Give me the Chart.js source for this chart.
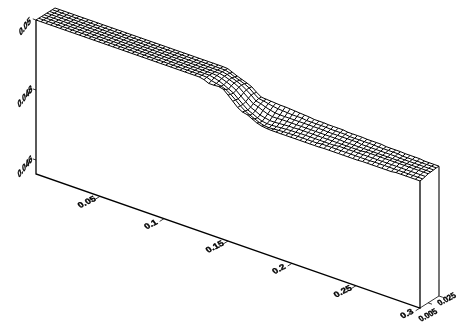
<!DOCTYPE html>
<html>
<head>
<meta charset="utf-8">
<script src="https://cdn.jsdelivr.net/npm/chart.js@4/dist/chart.umd.min.js"></script>
<style>
  html, body { margin: 0; padding: 0; background: #fff; }
  canvas { display: block; }
</style>
</head>
<body>
<canvas id="surface" width="459" height="322"></canvas>
<script>
// grid of the surface
const xValues = [0, 0.00375, 0.0075, 0.01125, 0.015, 0.01875, 0.0225, 0.02625, 0.03, 0.03375, 0.0375, 0.04125, 0.045, 0.04875, 0.0525, 0.05625, 0.06, 0.06375, 0.0675, 0.07125,
  0.075, 0.07875, 0.0825, 0.08625, 0.09, 0.09375, 0.0975, 0.10125, 0.105, 0.10875, 0.1125, 0.11625, 0.12, 0.12375, 0.1275,
  0.13125, 0.135, 0.13875, 0.1425, 0.14625, 0.15, 0.15375, 0.1575, 0.16125, 0.165, 0.16875, 0.1725, 0.17625, 0.18, 0.18375, 0.1875, 0.19125, 0.195, 0.19875,
  0.2025, 0.20625, 0.21, 0.21375, 0.2175, 0.22125, 0.225, 0.22875, 0.2325, 0.23625, 0.24, 0.24375, 0.2475, 0.25125, 0.255, 0.25875, 0.2625, 0.26625, 0.27, 0.27375, 0.2775, 0.28125, 0.285, 0.28875, 0.2925, 0.29625, 0.3];
const depthValues = [-0.01, -0.005, 0, 0.005, 0.01, 0.015, 0.02, 0.025];

// first 35 columns are the same flat level on every row
const zFlat = [0.05, 0.05, 0.05, 0.05, 0.05, 0.05, 0.05, 0.05, 0.05, 0.05, 0.05, 0.05, 0.05, 0.05, 0.05, 0.05, 0.05, 0.05, 0.05, 0.05,
  0.05, 0.05, 0.05, 0.05, 0.05, 0.05, 0.05, 0.05, 0.05, 0.05, 0.05, 0.05, 0.05, 0.05, 0.05];

const zRow0 = [...zFlat, 0.04997, 0.04991, 0.04991, 0.04992, 0.04989, 0.04977, 0.04964, 0.04951, 0.04943, 0.0494, 0.04933, 0.04926, 0.04922, 0.0492, 0.04919, 0.04919, 0.04919, 0.04919, 0.04919,
  0.04919, 0.04919, 0.04919, 0.04919, 0.04919, 0.04919, 0.0492, 0.0492, 0.0492, 0.0492, 0.0492, 0.0492, 0.0492, 0.0492, 0.04921, 0.04921, 0.04921, 0.04921, 0.04921, 0.04921, 0.04921, 0.04923, 0.04923, 0.04923, 0.04923, 0.04923, 0.04923];
const zRow1 = [...zFlat, 0.04999, 0.04994, 0.04991, 0.04988, 0.04983, 0.04974, 0.04963, 0.04951, 0.04941, 0.04934, 0.04928, 0.04922, 0.04918, 0.04917, 0.04918, 0.04919, 0.0492, 0.0492, 0.04921,
  0.04921, 0.04921, 0.04921, 0.04921, 0.04921, 0.04923, 0.04923, 0.04923, 0.04923, 0.04923, 0.04923, 0.04923, 0.04923, 0.04923, 0.04923, 0.04923, 0.04924, 0.04924, 0.04924, 0.04924, 0.04924, 0.04924, 0.04924, 0.04924, 0.04924, 0.04924, 0.04924];
const zRow2 = [...zFlat, 0.05, 0.04997, 0.04993, 0.04987, 0.0498, 0.04973, 0.04961, 0.0495, 0.04939, 0.04933, 0.04926, 0.04921, 0.04919, 0.04919, 0.0492, 0.04921, 0.04922, 0.04923, 0.04923,
  0.04924, 0.04924, 0.04924, 0.04924, 0.04924, 0.04924, 0.04924, 0.04924, 0.04926, 0.04926, 0.04926, 0.04926, 0.04926, 0.04926, 0.04926, 0.04926, 0.04926, 0.04926, 0.04926, 0.04926, 0.04926, 0.04926, 0.04926, 0.04926, 0.04926, 0.04926, 0.04926];
const zRow3 = [...zFlat, 0.05, 0.04999, 0.04995, 0.0499, 0.04984, 0.04976, 0.04964, 0.04953, 0.04942, 0.04936, 0.04929, 0.04926, 0.04923, 0.04923, 0.04924, 0.04925, 0.04926, 0.04926, 0.04927,
  0.04927, 0.04927, 0.04927, 0.04927, 0.04927, 0.04927, 0.04927, 0.04927, 0.04927, 0.04927, 0.04927, 0.04927, 0.04927, 0.04929, 0.04929, 0.04929, 0.04929, 0.04929, 0.04929, 0.04929, 0.04929, 0.04929, 0.04929, 0.04929, 0.04929, 0.04929, 0.04929];
const zRow4 = [...zFlat, 0.05, 0.05, 0.04997, 0.04992, 0.04987, 0.0498, 0.04969, 0.04958, 0.04947, 0.04943, 0.04937, 0.04932, 0.04929, 0.04929, 0.0493, 0.0493, 0.0493, 0.0493, 0.0493,
  0.0493, 0.0493, 0.0493, 0.0493, 0.0493, 0.0493, 0.0493, 0.0493, 0.04929, 0.04929, 0.04929, 0.04929, 0.04929, 0.04929, 0.04929, 0.04929, 0.04929, 0.04929, 0.04929, 0.04929, 0.04929, 0.04929, 0.04929, 0.04929, 0.04929, 0.04929, 0.04929];
const zRow5 = [...zFlat, 0.05, 0.05, 0.04997, 0.04992, 0.04987, 0.04981, 0.04972, 0.04962, 0.0495, 0.04947, 0.04942, 0.04938, 0.04935, 0.04934, 0.04934, 0.04934, 0.04934, 0.04934, 0.04934,
  0.04934, 0.04934, 0.04934, 0.04934, 0.04933, 0.04933, 0.04933, 0.04933, 0.04933, 0.04933, 0.04933, 0.04931, 0.04931, 0.04931, 0.04931, 0.04931, 0.04931, 0.04931, 0.04931, 0.0493, 0.0493, 0.0493, 0.0493, 0.0493, 0.0493, 0.0493, 0.0493];
const zRow6 = [...zFlat, 0.05, 0.05, 0.04996, 0.0499, 0.04985, 0.0498, 0.04973, 0.04962, 0.04952, 0.0495, 0.04947, 0.04944, 0.04942, 0.04941, 0.0494, 0.04939, 0.04939, 0.04939, 0.04937,
  0.04937, 0.04937, 0.04937, 0.04937, 0.04936, 0.04936, 0.04936, 0.04936, 0.04934, 0.04934, 0.04934, 0.04934, 0.04934, 0.04934, 0.04933, 0.04933, 0.04933, 0.04933, 0.04933, 0.04931, 0.04931, 0.04931, 0.04931, 0.04931, 0.04931, 0.04931, 0.04931];
const zRow7 = [...zFlat, 0.05, 0.04999, 0.04993, 0.04987, 0.04982, 0.04977, 0.04971, 0.0496, 0.04951, 0.0495, 0.04949, 0.04948, 0.04947, 0.04947, 0.04946, 0.04945, 0.04944, 0.04943, 0.04942,
  0.0494, 0.0494, 0.0494, 0.04939, 0.04939, 0.04939, 0.04939, 0.04937, 0.04937, 0.04937, 0.04937, 0.04936, 0.04936, 0.04936, 0.04936, 0.04934, 0.04934, 0.04934, 0.04934, 0.04933, 0.04933, 0.04933, 0.04933, 0.04931, 0.04931, 0.04931, 0.04931];
const zRows = [zRow0, zRow1, zRow2, zRow3, zRow4, zRow5, zRow6, zRow7];

const zFloor = 0.0456;
const xTickValues = [0.05, 0.1, 0.15, 0.2, 0.25, 0.3];
const xTickLabels = ['0.05', '0.1', '0.15', '0.2', '0.25', '0.3'];
const zTickValues = [0.05, 0.048, 0.046];
const zTickLabels = ['0.05', '0.048', '0.046'];
const depthTickValues = [0.005, 0.025];
const depthTickLabels = ['0.005', '0.025'];

// oblique view: depth shifts right and up, x runs downhill on the page
const xSlant = 0.012763;
const depthToU = 0.4241;
const depthToV = 0.009796;
const depthStart = depthValues[0];
const depthEnd = depthValues[depthValues.length - 1];
const xEnd = xValues[xValues.length - 1];

function project(x, d, z) {
  const dd = d - depthStart;
  return { x: x + dd * depthToU, y: z - xSlant * x + dd * depthToV };
}

function line(points, color, width) {
  return { data: points, showLine: true, pointRadius: 0, borderColor: color, borderWidth: width, fill: false, tension: 0 };
}

const datasets = [];
const meshColor = '#000';
const meshWidth = 1;

zRows.forEach((row, r) => {
  datasets.push(line(xValues.map((x, i) => project(x, depthValues[r], row[i])), meshColor, meshWidth));
});
xValues.forEach((x, i) => {
  datasets.push(line(depthValues.map((d, r) => project(x, d, zRows[r][i])), meshColor, meshWidth));
});

// box edges
const lastCol = xValues.length - 1;
datasets.push(line([project(0, depthStart, zRow0[0]), project(0, depthStart, zFloor), project(xEnd, depthStart, zFloor), project(xEnd, depthStart, zRow0[lastCol])], '#000', 1.3));
datasets.push(line([project(xEnd, depthStart, zFloor), project(xEnd, depthEnd, zFloor)], '#000', 0.8));
datasets.push(line([project(xEnd, depthEnd, zFloor), project(xEnd, depthEnd, zRow7[lastCol])], '#666', 1.8));

// tick marks
zTickValues.forEach(z => datasets.push(line([project(0, depthStart, z), project(-0.0025, depthStart, z)], '#000', 0.8)));
xTickValues.forEach(x => datasets.push(line([project(x, depthStart, zFloor), project(x, depthStart - 0.008, zFloor)], '#000', 0.8)));
depthTickValues.forEach(d => datasets.push(line([project(xEnd, d, zFloor), project(xEnd + 0.003, d, zFloor)], '#000', 0.8)));

// rotated tick labels, placed from the scales
const depthLabelOffsets = [[0, 12.5], [8, 3.5]];
const zMatrix = [0.62, -0.78, 0.25, 1.0];
const xMatrix = [0.95, -0.47, 0.55, 0.75];
const depthMatrix = [0.76, -0.4, 0.55, 0.75];

const tickLabels = {
  id: 'tickLabels',
  afterDatasetsDraw(chart) {
    const { ctx, scales } = chart;
    const put = (pt, label, dx, dy, m) => {
      ctx.save();
      ctx.translate(scales.x.getPixelForValue(pt.x) + dx, scales.y.getPixelForValue(pt.y) + dy);
      ctx.transform(m[0], m[1], m[2], m[3], 0, 0);
      ctx.fillText(label, 0, 0);
      ctx.strokeText(label, 0, 0);
      ctx.restore();
    };
    ctx.save();
    ctx.fillStyle = '#000';
    ctx.strokeStyle = '#000';
    ctx.lineWidth = 0.4;
    ctx.font = 'bold 9px "Liberation Sans", Arial, sans-serif';
    ctx.textAlign = 'center';
    ctx.textBaseline = 'middle';
    zTickValues.forEach((z, i) => put(project(0, depthStart, z), zTickLabels[i], -11, 7, zMatrix));
    xTickValues.forEach((x, i) => put(project(x, depthStart, zFloor), xTickLabels[i], -13, 6, xMatrix));
    depthTickValues.forEach((d, i) => {
      const off = depthLabelOffsets[i];
      put(project(xEnd, d, zFloor), depthTickLabels[i], off[0], off[1], depthMatrix);
    });
    ctx.restore();
  }
};

new Chart(document.getElementById('surface'), {
  type: 'scatter',
  data: { datasets },
  options: {
    responsive: false,
    animation: false,
    layout: { padding: 0 },
    plugins: { legend: { display: false }, tooltip: { enabled: false } },
    scales: {
      x: { type: 'linear', display: false, min: -0.028125, max: 0.33047 },
      y: { type: 'linear', display: false, min: 0.041371, max: 0.050571 }
    }
  },
  plugins: [tickLabels]
});
</script>
</body>
</html>
